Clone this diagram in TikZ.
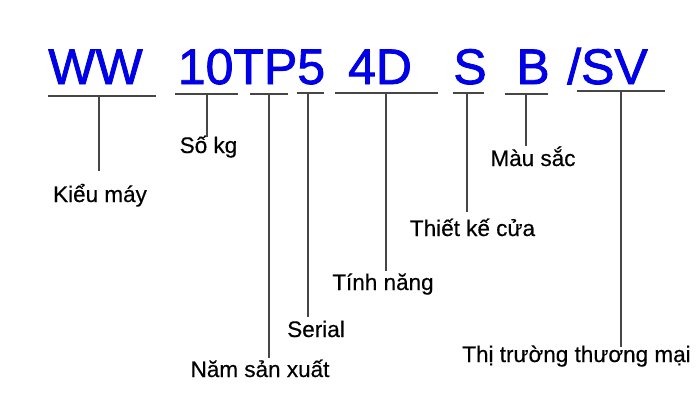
\documentclass[tikz,border=0pt]{standalone}
\usepackage{fontspec}
\setmainfont{Liberation Sans}
\newfontfamily\codefont{Liberation Sans}[FakeBold=1.6]
\newfontfamily\lblfont{Liberation Sans}[FakeBold=0.4]
\definecolor{codeblue}{RGB}{0,0,230}
\definecolor{linegray}{RGB}{70,70,70}
\begin{document}
\begin{tikzpicture}[x=1pt,y=-1pt,
  code/.style={anchor=base,inner sep=0pt,text=codeblue,font=\codefont\fontsize{50}{50}\selectfont},
  lbl/.style={anchor=base,inner sep=0pt,text=black,font=\lblfont\fontsize{22.5}{27}\selectfont},
  uline/.style={draw=linegray,line width=1.6pt},
  vline/.style={draw=linegray,line width=1.4pt}]
\useasboundingbox[fill=white] (0,0) rectangle (700,400);
% code segments
\node[code] (cWW) at (95.5,84) {WW};
\node[code] (c10) at (251.5,84) {10TP5};
\node[code] (c4D) at (380,84) {4D};
\node[code] (cS) at (470,84) {S};
\node[code] (cB) at (533,84) {B};
\node[code] (cSV) at (607.5,84) {/SV};
% labels
\node[lbl] (lKieu) at (100,202) {Kiểu máy};
\node[lbl] (lSo) at (208.5,153) {Số kg};
\node[lbl] (lMau) at (533,166) {Màu sắc};
\node[lbl] (lSerial) at (316,337) {Serial};
\node[lbl] (lNam) at (260,377) {Năm sản xuất};
\node[lbl] (lTinh) at (383,290) {Tính năng};
\node[lbl] (lThiet) at (472.5,236) {Thiết kế cửa};
\node[lbl] (lThi) at (576.5,362) {Thị trường thương mại};
% underlines
\draw[uline] (48,96) coordinate (a1) -- (156,96) coordinate (b1);
\draw[uline] (175,94) coordinate (a2) -- (238,94) coordinate (b2);
\draw[uline] (250,94) coordinate (a3) -- (288,94) coordinate (b3);
\draw[uline] (297,93) coordinate (a4) -- (324,93) coordinate (b4);
\draw[uline] (335,93) coordinate (a5) -- (438,93) coordinate (b5);
\draw[uline] (453,93) coordinate (a6) -- (484,93) coordinate (b6);
\draw[uline] (505,94) coordinate (a7) -- (548,94) coordinate (b7);
\draw[uline] (577,91) coordinate (a8) -- (665,91) coordinate (b8);
% vertical leaders
\coordinate (t1) at (99,96);   \coordinate (e1) at (99,171);
\coordinate (t2) at (207,94);  \coordinate (e2) at (207,137);
\coordinate (t3) at (269,94);  \coordinate (e3) at (269,358);
\coordinate (t4) at (308,93);  \coordinate (e4) at (308,317);
\coordinate (t5) at (386,93);  \coordinate (e5) at (386,271);
\coordinate (t6) at (467,93);  \coordinate (e6) at (467,212);
\coordinate (t7) at (526,94);  \coordinate (e7) at (526,146);
\coordinate (t8) at (621,91);  \coordinate (e8) at (621,347);
\draw[vline] (t1) -- (e1);
\draw[vline] (t2) -- (e2);
\draw[vline] (t3) -- (e3);
\draw[vline] (t4) -- (e4);
\draw[vline] (t5) -- (e5);
\draw[vline] (t6) -- (e6);
\draw[vline] (t7) -- (e7);
\draw[vline] (t8) -- (e8);
\end{tikzpicture}
\end{document}
